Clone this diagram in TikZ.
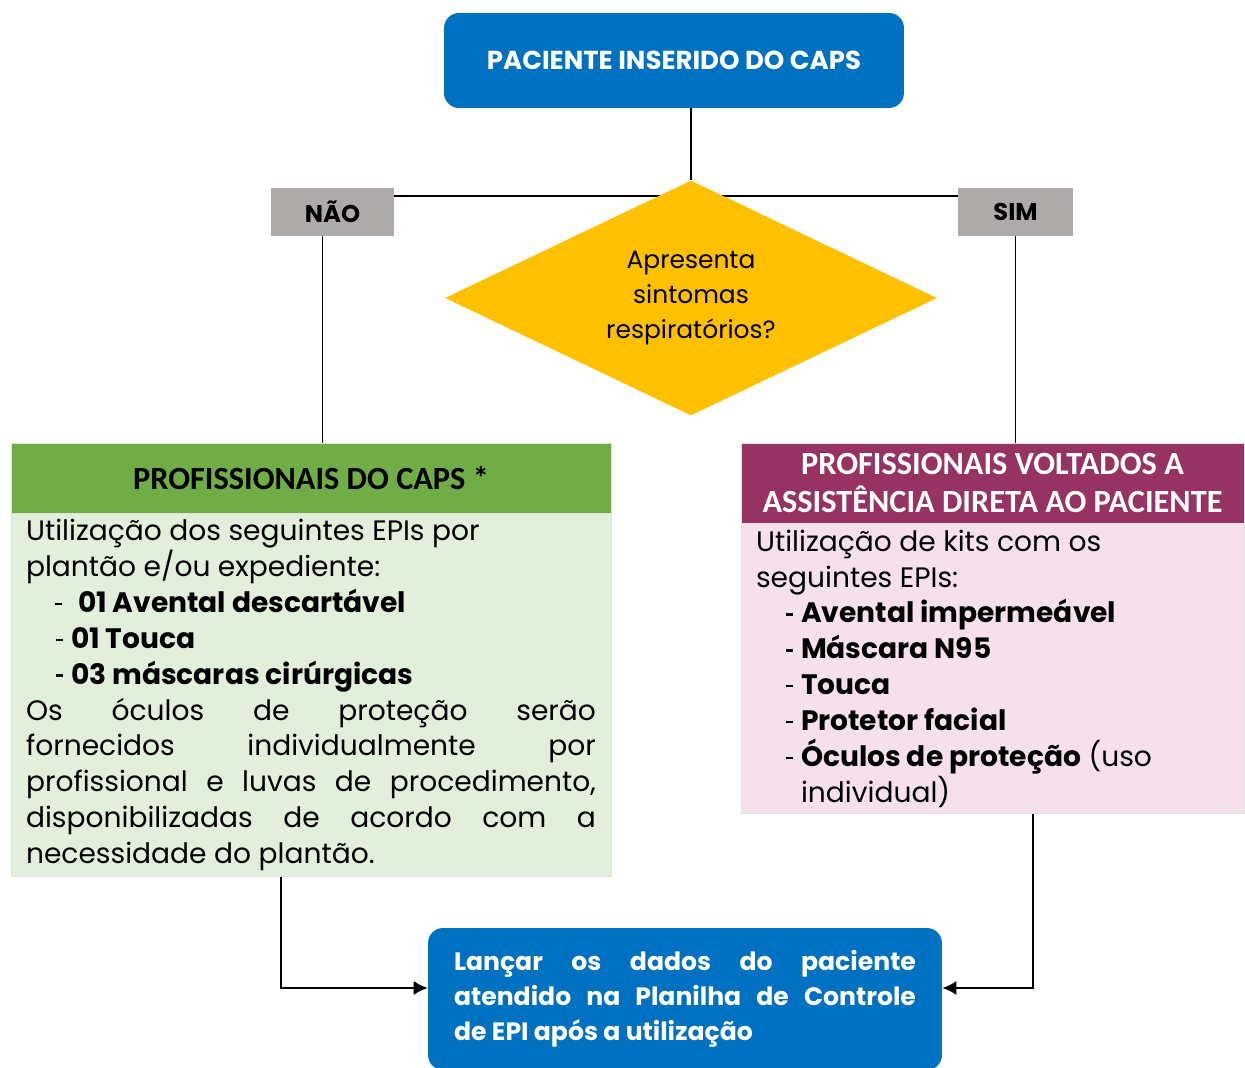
\documentclass[tikz,border=0pt]{standalone}
\usepackage{fontspec}
\newfontfamily\calibri{Carlito}
\newfontfamily\gothic{Poppins}
\usetikzlibrary{shapes.geometric,arrows.meta,positioning,backgrounds}

\definecolor{capsblue}{HTML}{0070C0}
\definecolor{diamondyellow}{HTML}{FFC000}
\definecolor{answergray}{HTML}{AEAAAA}
\definecolor{greenhead}{HTML}{70AD47}
\definecolor{greenbody}{HTML}{E2EFDA}
\definecolor{berryhead}{RGB}{150,51,99}
\definecolor{berrybody}{RGB}{245,224,236}

\newcommand{\epimark}{\rule[0.26em]{0.13cm}{0.05cm}}
\newcommand{\epidash}[1]{\hspace*{0.6cm}\makebox[0.3cm][l]{\epimark}\textbf{#1}}

\begin{document}
\begin{tikzpicture}[x=0.02cm,y=-0.02cm,
  bluebox/.style={rounded corners=0.3cm, fill=capsblue, text=white, inner sep=0pt},
  answer/.style={fill=answergray, minimum height=0.96cm, inner sep=0pt, font=\gothic\bfseries\fontsize{13.8}{15}\selectfont},
  head/.style={draw=black!12, inner sep=0pt, align=center, font=\calibri\bfseries\fontsize{18.4}{22}\selectfont},
  body/.style={draw=black!12, anchor=north, inner xsep=0.3cm, inner ysep=0pt, align=justify, font=\gothic\fontsize{16}{20.4}\selectfont},
  link/.style={line width=1pt},
  arrowlink/.style={link, -{Latex[length=0.28cm,width=0.28cm]}}]

  \useasboundingbox (0,0) rectangle (1245,1068);

  % top and decision
  \node[bluebox, minimum width=9.2cm, minimum height=1.9cm, font=\gothic\bfseries\fontsize{14.8}{18}\selectfont] (paciente) at (674,60.5) {PACIENTE INSERIDO DO CAPS};
  \node[diamond, aspect=2.1, fill=diamondyellow, inner sep=0pt, minimum width=9.84cm, minimum height=4.7cm, align=center, font=\gothic\fontsize{14.2}{19.8}\selectfont] (sintomas) at (691,298) {Apresenta\\sintomas\\respiratórios?};
  \node[answer, minimum width=2.46cm] (nao) at (332.5,212) {NÃO};
  \node[answer, minimum width=2.3cm] (sim) at (1015.5,212) {SIM};

  % left column
  \node[head, fill=greenhead, minimum width=12cm, minimum height=1.4cm] (capshead) at (311,478) {PROFISSIONAIS DO CAPS *};
  \node[body, fill=greenbody, text width=11.4cm, minimum height=7.26cm] (capsbody) at (capshead.south) {%
    Utilização dos seguintes EPIs por\\
    plantão e/ou expediente:\\
    \hspace*{0.58cm}\makebox[0.46cm][l]{\epimark}\textbf{01 Avental descartável}\\
    \epidash{01 Touca}\\
    \epidash{03 máscaras cirúrgicas}\\
    Os óculos de proteção serão\linebreak
    fornecidos individualmente por\linebreak
    profissional e luvas de procedimento,\linebreak
    disponibilizadas de acordo com a\linebreak
    necessidade do plantão.};

  % right column
  \node[head, fill=berryhead, text=white, minimum width=10.06cm, minimum height=1.6cm] (diretahead) at (992.5,483) {PROFISSIONAIS VOLTADOS A\\ASSISTÊNCIA DIRETA AO PACIENTE};
  \node[body, fill=berrybody, text width=9.46cm, minimum height=5.8cm] (diretabody) at (diretahead.south) {%
    Utilização de kits com os\\
    seguintes EPIs:\\
    \epidash{Avental impermeável}\\
    \epidash{Máscara N95}\\
    \epidash{Touca}\\
    \epidash{Protetor facial}\\
    \epidash{Óculos de proteção} (uso\\
    \hspace*{0.9cm}individual)};

  % bottom
  \node[bluebox, minimum width=10.28cm, minimum height=2.84cm, text width=9.24cm, align=justify, font=\gothic\bfseries\fontsize{14.3}{19.8}\selectfont] (planilha) at (685,999) {Lançar os dados do paciente\linebreak atendido na Planilha de Controle\linebreak de EPI após a utilização};

  \begin{scope}[on background layer]
    \draw[link] (paciente.south -| sintomas.north) -- (sintomas.north);
    \draw[link] ([yshift=0.32cm]nao.east) -- ([yshift=0.32cm]sim.west);
    \draw[link] ([xshift=-0.2cm]nao.south) -- ([xshift=-0.2cm]nao.south |- capshead.north);
    \draw[link] (sim.south) -- (sim.south |- diretahead.north);
  \end{scope}
  \draw[arrowlink] ([xshift=-0.6cm]capsbody.south) |- ([yshift=0.22cm]planilha.west);
  \draw[arrowlink] ([xshift=0.81cm]diretabody.south) |- ([yshift=0.22cm]planilha.east);
\end{tikzpicture}
\end{document}
